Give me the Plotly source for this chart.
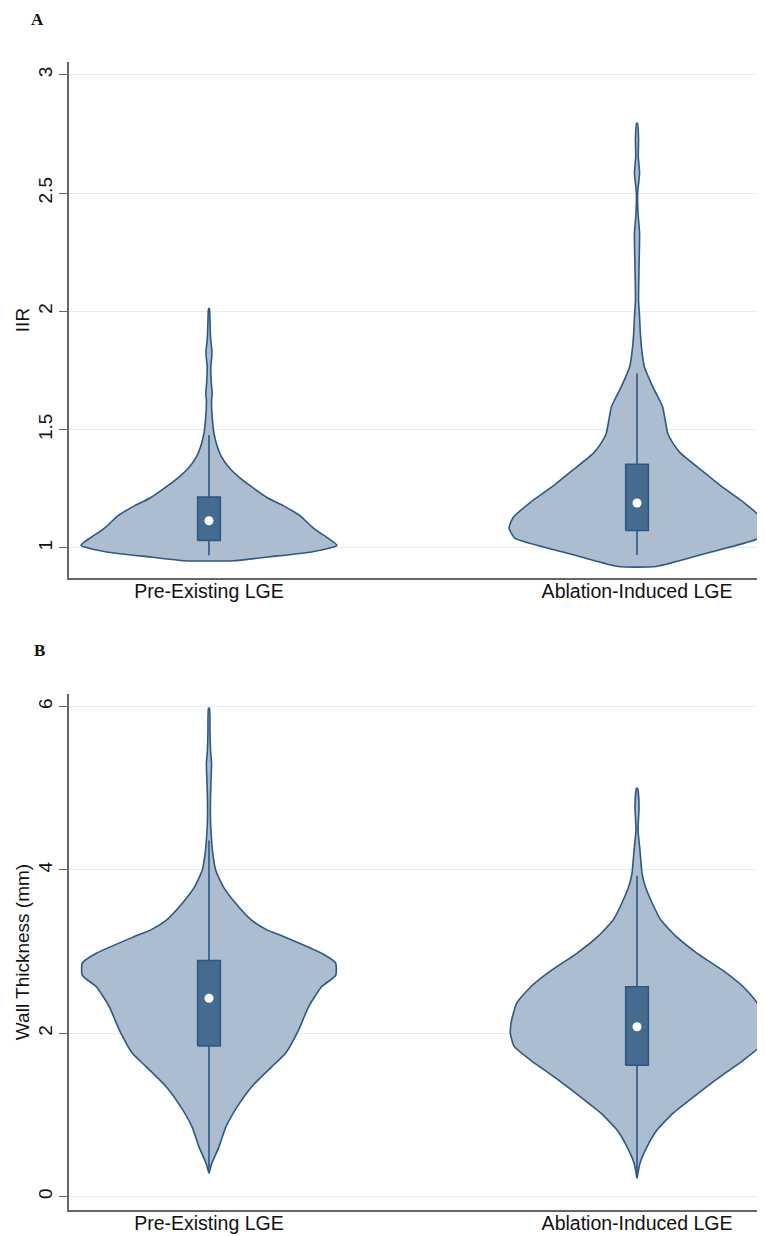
import plotly.graph_objects as go
from plotly.subplots import make_subplots

categories = ["Pre-Existing LGE", "Ablation-Induced LGE"]
positions = [1, 2]

# ---- Panel A: IIR violin profiles (value, relative half-width, max = 1) ----
iir_pre_y = [0.946, 0.962, 0.983, 1.011, 1.042, 1.070, 1.091, 1.133, 1.176, 1.211, 1.260, 1.302,
             1.338, 1.387, 1.443, 1.485, 1.555, 1.626, 1.650, 1.700, 1.766, 1.810, 1.840, 1.870,
             1.907, 1.960, 2.012]
iir_pre_w = [0.19, 0.46, 0.80, 1.00, 0.93, 0.85, 0.80, 0.72, 0.59, 0.46, 0.33, 0.23,
             0.16, 0.096, 0.057, 0.039, 0.025, 0.020, 0.025, 0.018, 0.014, 0.022, 0.022, 0.015,
             0.011, 0.008, 0.003]

iir_abl_y = [0.922, 0.979, 1.042, 1.084, 1.127, 1.190, 1.260, 1.330, 1.401, 1.443, 1.485, 1.541,
             1.597, 1.626, 1.668, 1.724, 1.766, 1.837, 1.907, 1.977, 2.049, 2.190, 2.331, 2.415,
             2.500, 2.584, 2.654, 2.730, 2.795]
iir_abl_w = [0.15, 0.55, 0.955, 1.00, 0.97, 0.84, 0.66, 0.50, 0.34, 0.28, 0.24, 0.22,
             0.20, 0.175, 0.135, 0.088, 0.057, 0.037, 0.026, 0.020, 0.012, 0.016, 0.020, 0.008,
             0.005, 0.020, 0.010, 0.012, 0.004]

# ---- Panel B: Wall thickness violin profiles ----
wt_pre_y = [0.286, 0.41, 0.61, 0.857, 1.10, 1.35, 1.59, 1.76, 2.04, 2.33, 2.57, 2.71, 2.86,
            2.98, 3.18, 3.27, 3.39, 3.59, 3.80, 4.00, 4.20, 4.37, 4.60, 4.90, 5.10, 5.30, 5.47,
            5.70, 5.98]
wt_pre_w = [0.0, 0.023, 0.078, 0.133, 0.22, 0.336, 0.49, 0.60, 0.70, 0.78, 0.88, 0.99, 0.99,
            0.88, 0.59, 0.45, 0.33, 0.21, 0.11, 0.052, 0.030, 0.020, 0.012, 0.012, 0.016, 0.020,
            0.012, 0.008, 0.004]

wt_abl_y = [0.225, 0.41, 0.61, 0.816, 1.02, 1.22, 1.47, 1.67, 1.84, 2.00, 2.16, 2.37, 2.57,
            2.77, 2.98, 3.18, 3.39, 3.59, 3.80, 3.96, 4.245, 4.49, 4.78, 5.00]
wt_abl_w = [0.0, 0.023, 0.078, 0.156, 0.28, 0.44, 0.65, 0.83, 0.96, 0.99, 0.98, 0.94, 0.83,
            0.67, 0.47, 0.31, 0.185, 0.12, 0.064, 0.039, 0.023, 0.008, 0.016, 0.004]

# ---- Box statistics: [whisker low, q1, median, q3, whisker high] ----
iir_box = {"Pre-Existing LGE": [0.969, 1.032, 1.115, 1.215, 1.478],
           "Ablation-Induced LGE": [0.970, 1.074, 1.190, 1.354, 1.737]}
wt_box = {"Pre-Existing LGE": [0.29, 1.845, 2.43, 2.89, 4.36],
          "Ablation-Induced LGE": [0.23, 1.61, 2.08, 2.57, 3.93]}

VIOLIN_HALF = 0.299   # max half-width in x units
BOX_HALF = 0.0265

FILL = "#adbdd0"
EDGE = "#2c5883"
BOXFILL = "#466b90"

fig = make_subplots(rows=2, cols=1, vertical_spacing=0.101)


def add_violin(row, pos, ys, ws, box):
    xs = [pos + VIOLIN_HALF * w for w in ws] + [pos - VIOLIN_HALF * w for w in reversed(ws)]
    yy = list(ys) + list(reversed(ys))
    xs.append(xs[0]); yy.append(yy[0])
    fig.add_trace(go.Scatter(x=xs, y=yy, mode="lines", fill="toself", fillcolor=FILL,
                             line=dict(color=EDGE, width=1.6, shape="spline", smoothing=0.5),
                             hoverinfo="skip", showlegend=False), row=row, col=1)
    lo, q1, med, q3, hi = box
    fig.add_trace(go.Scatter(x=[pos, pos, None, pos, pos], y=[lo, q1, None, q3, hi], mode="lines",
                             line=dict(color=EDGE, width=1.6), hoverinfo="skip",
                             showlegend=False), row=row, col=1)
    fig.add_trace(go.Scatter(x=[pos - BOX_HALF, pos + BOX_HALF, pos + BOX_HALF, pos - BOX_HALF, pos - BOX_HALF],
                             y=[q1, q1, q3, q3, q1], mode="lines", fill="toself", fillcolor=BOXFILL,
                             line=dict(color=EDGE, width=1.6), hoverinfo="skip",
                             showlegend=False), row=row, col=1)
    fig.add_trace(go.Scatter(x=[pos], y=[med], mode="markers",
                             marker=dict(color="white", size=9, line=dict(width=0)),
                             hoverinfo="skip", showlegend=False), row=row, col=1)


add_violin(1, positions[0], iir_pre_y, iir_pre_w, iir_box[categories[0]])
add_violin(1, positions[1], iir_abl_y, iir_abl_w, iir_box[categories[1]])
add_violin(2, positions[0], wt_pre_y, wt_pre_w, wt_box[categories[0]])
add_violin(2, positions[1], wt_abl_y, wt_abl_w, wt_box[categories[1]])

AX = "#666666"
GRID = "#e4edf1"
FONT = "Liberation Sans"
for r in (1, 2):
    fig.update_xaxes(range=[0.673, 2.299], tickvals=positions, ticktext=categories,
                     showline=True, linecolor=AX, linewidth=1.5, showgrid=False, zeroline=False,
                     ticks="", ticklen=0, ticklabelstandoff=-5, automargin=False,
                     tickfont=dict(family=FONT, size=19.5, color="#111"),
                     row=r, col=1)

fig.update_yaxes(range=[0.873, 3.054], tickvals=[1, 1.5, 2, 2.5, 3], ticktext=["1", "1.5", "2", "2.5", "3"],
                 row=1, col=1)
fig.update_yaxes(range=[-0.163, 6.155], tickvals=[0, 2, 4, 6], ticktext=["0", "2", "4", "6"],
                 row=2, col=1)
fig.update_yaxes(showline=True, linecolor=AX, linewidth=1.5, showgrid=True, gridcolor=GRID,
                 gridwidth=1.2, zeroline=False, ticks="outside", ticklen=8, tickwidth=1.2,
                 tickcolor=AX, tickangle=-90, automargin=False,
                 tickfont=dict(family=FONT, size=19, color="#111"),
                 title_font=dict(family=FONT, size=19, color="#111"),
                 title_standoff=0)
fig.update_yaxes(title_text="IIR", row=1, col=1)
fig.update_yaxes(title_text="Wall Thickness (mm)", row=2, col=1)

fig.add_annotation(text="<b>A</b>", x=-0.045, y=1.0366, xref="paper", yref="paper",
                   xanchor="center", yanchor="middle", showarrow=False,
                   font=dict(family="Liberation Serif", size=17, color="#111"))
fig.add_annotation(text="<b>B</b>", x=-0.042, y=0.487, xref="paper", yref="paper",
                   xanchor="center", yanchor="middle", showarrow=False,
                   font=dict(family="Liberation Serif", size=17, color="#111"))

# The page body adds an 8 px offset, so the figure is sized to fill the rest of the window.
fig.update_layout(width=757, height=1228, margin=dict(l=61, r=0, t=54, b=26, autoexpand=False),
                  plot_bgcolor="white", paper_bgcolor="white", showlegend=False)

fig.write_html("out.html")
